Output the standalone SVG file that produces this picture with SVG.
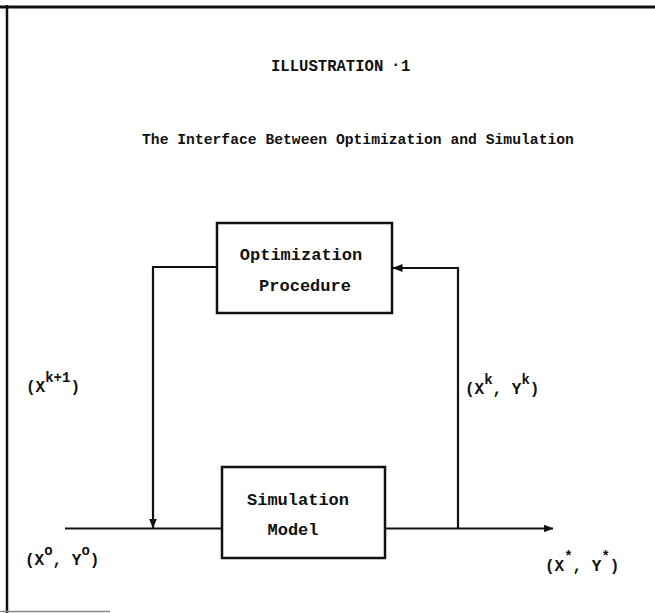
<svg xmlns="http://www.w3.org/2000/svg" width="655" height="613" viewBox="0 0 655 613">
  <style>
    .tw { font-family: "Liberation Mono", "Courier New", monospace; font-weight: bold; fill: #111; }
    .title { font-size: 15.6px; }
    .sub { font-size: 14.7px; }
    .node-text { font-size: 17px; text-anchor: middle; }
    .lbl { font-size: 16px; }
    .sup { font-size: 14px; }
    .box { fill: #fff; stroke: #111; stroke-width: 2.5; }
    .wire { fill: none; stroke: #111; stroke-width: 2.2; }
  </style>
  <defs>
    <marker id="arrow" viewBox="0 0 10 8" refX="9.5" refY="4" markerWidth="10" markerHeight="8" markerUnits="userSpaceOnUse" orient="auto">
      <path d="M0,0 L10,4 L0,8 z" fill="#111"/>
    </marker>
  </defs>

  <rect width="655" height="613" fill="#fff"/>

  <!-- page frame -->
  <g id="frame" stroke="#111" fill="none">
    <line x1="0" y1="7" x2="655" y2="7" stroke-width="3"/>
    <line x1="7" y1="5" x2="7" y2="613" stroke-width="2.5"/>
    <line x1="0" y1="611.5" x2="110" y2="611.5" stroke-width="1.5" stroke="#888"/>
  </g>

  <!-- headings -->
  <text class="tw title" x="271" y="71">ILLUSTRATION</text>
  <text class="tw title" x="391" y="69">·</text>
  <text class="tw title" x="401" y="71">1</text>
  <text class="tw sub" x="142" y="144">The Interface Between Optimization and Simulation</text>

  <!-- connectors -->
  <g id="connectors">
    <polyline class="wire" points="217,267 153,267 153,528" marker-end="url(#arrow)"/>
    <line class="wire" x1="65" y1="528.5" x2="222" y2="528.5"/>
    <line class="wire" x1="385" y1="528.5" x2="553" y2="528.5" marker-end="url(#arrow)"/>
    <polyline class="wire" points="458,528.5 458,268 393,268" marker-end="url(#arrow)"/>
  </g>

  <!-- nodes -->
  <g id="optimization">
    <rect class="box" x="217" y="223" width="175" height="90"/>
    <text class="tw node-text" x="301" y="260">Optimization</text>
    <text class="tw node-text" x="305" y="291">Procedure</text>
  </g>
  <g id="simulation">
    <rect class="box" x="222" y="467" width="163" height="91"/>
    <text class="tw node-text" x="298" y="505">Simulation</text>
    <text class="tw node-text" x="293" y="535">Model</text>
  </g>

  <!-- connector labels -->
  <text class="tw lbl" x="26" y="392">(X<tspan class="sup" dy="-10">k+1</tspan><tspan dy="10">)</tspan></text>
  <text class="tw lbl" x="465" y="394">(X<tspan class="sup" dy="-10">k</tspan><tspan dy="10">, Y</tspan><tspan class="sup" dy="-10">k</tspan><tspan dy="10">)</tspan></text>
  <text class="tw lbl" x="25" y="565">(X<tspan class="sup" dy="-10">o</tspan><tspan dy="10">, Y</tspan><tspan class="sup" dy="-10">o</tspan><tspan dy="10">)</tspan></text>
  <text class="tw lbl" x="545" y="571">(X<tspan class="sup" dy="-10">*</tspan><tspan dy="10">, Y</tspan><tspan class="sup" dy="-10">*</tspan><tspan dy="10">)</tspan></text>
</svg>
